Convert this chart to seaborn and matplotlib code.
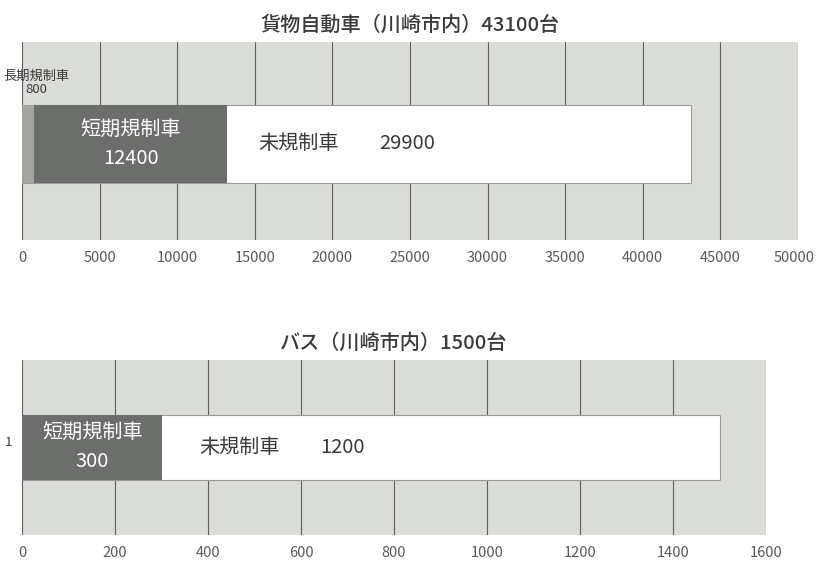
import matplotlib
matplotlib.use("Agg")
import matplotlib.pyplot as plt
import matplotlib.transforms as mtransforms
import seaborn as sns
import numpy as np
import pandas as pd

sns.set_style("white")
plt.rcParams['font.family'] = ['Noto Sans CJK JP', 'DejaVu Sans']

# ---- data ----
segments = ["長期規制車", "短期規制車", "未規制車"]
truck_values = [800, 12400, 29900]
bus_values = [1, 300, 1200]
truck_title = "貨物自動車（川崎市内）43100台"
bus_title = "バス（川崎市内）1500台"
truck_ticks = [0, 5000, 10000, 15000, 20000, 25000, 30000, 35000, 40000, 45000, 50000]
bus_ticks = [0, 200, 400, 600, 800, 1000, 1200, 1400, 1600]

seg_colors = ["#a3a5a1", "#6c6e6b", "#ffffff"]
BG = "#d9dcd7"
TXT = "#3a3a3a"

fig = plt.figure(figsize=(8.16, 5.62), dpi=100)
ax1 = fig.add_axes([22/816, 1-240/562, 776/816, 198/562])
ax2 = fig.add_axes([22/816, 1-535/562, 744/816, 175/562])


def draw(ax, values, ticks, title, bar_h, ylim):
    cum = np.cumsum(values)
    # draw from total down so shorter stacks sit on top
    for i in reversed(range(len(values))):
        df = pd.DataFrame({"cat": ["1"], "val": [cum[i]]})
        sns.barplot(data=df, x="val", y="cat", orient="h", ax=ax,
                    color=seg_colors[i], saturation=1, width=bar_h,
                    edgecolor="#9a9a9a" if i == 2 else seg_colors[i],
                    linewidth=0.8 if i == 2 else 0)
    ax.set_facecolor(BG)
    ax.set_xlim(ticks[0], ticks[-1])
    ax.set_ylim(*ylim)
    ax.set_xticks(ticks)
    ax.set_xticklabels([str(t) for t in ticks], fontsize=10.5, color="#5a5a5a")
    ax.tick_params(axis="x", length=0, pad=8)
    ax.set_yticks([])
    ax.set_xlabel("")
    ax.set_ylabel("")
    ax.set_axisbelow(True)
    ax.grid(axis="x", color="#5f5f5f", linewidth=0.8)
    for s in ax.spines.values():
        s.set_visible(False)
    ax.set_title(title, fontsize=14.5, color=TXT, pad=8, fontweight="medium")
    # short-term label (white, in dark segment)
    mid_short = cum[0] + values[1] / 2
    ax.text(mid_short, 0, f"{segments[1]}\n{values[1]}", ha="center", va="center",
            color="white", fontsize=14.5, linespacing=1.45)
    return cum


cum1 = draw(ax1, truck_values, truck_ticks, truck_title, 0.394, (0.485, -0.515))
ax1.text(cum1[1] + 2000, 0, segments[2], ha="left", va="center", color=TXT, fontsize=14.5)
ax1.text(cum1[1] + 9800, 0, str(truck_values[2]), ha="left", va="center", color=TXT, fontsize=14.5)
ax1.text(950, -0.31, f"{segments[0]}\n{truck_values[0]}", ha="center", va="center",
         multialignment="center", color=TXT, fontsize=9.5, linespacing=1.05)
# keep the last tick label inside the figure
last = ax1.get_xticklabels()[-1]
last.set_transform(last.get_transform() +
                   mtransforms.ScaledTranslation(-0.04, 0, fig.dpi_scale_trans))

cum2 = draw(ax2, bus_values, bus_ticks, bus_title, 0.37, (0.5, -0.5))
ax2.text(cum2[1] + 80, 0, segments[2], ha="left", va="center", color=TXT, fontsize=14.5)
ax2.text(cum2[1] + 340, 0, str(bus_values[2]), ha="left", va="center", color=TXT, fontsize=14.5)
ax2.text(-30, -0.03, str(bus_values[0]), ha="center", va="center", color=TXT, fontsize=9.5)

fig.savefig("out.png", dpi=100)
